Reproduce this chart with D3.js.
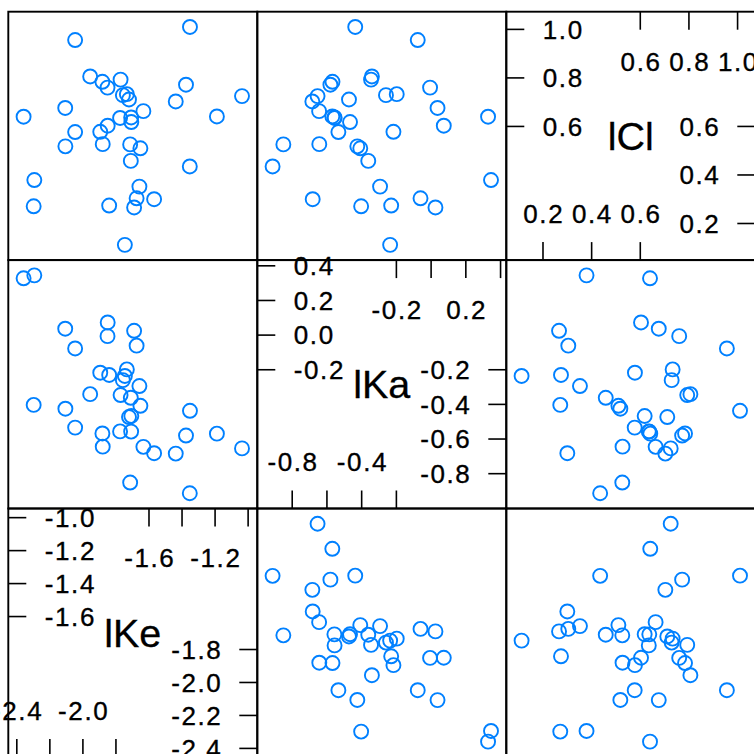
<!DOCTYPE html>
<html>
<head>
<meta charset="utf-8">
<script src="https://cdn.jsdelivr.net/npm/d3@7"></script>
<style>
  html, body { margin: 0; padding: 0; background: #ffffff; }
  svg { display: block; }
</style>
</head>
<body>
<script>
// Scatterplot matrix of per-subject parameter estimates (log scale)
// Column order, left to right; rows run in the reverse order, top to bottom.
const varNames = ["lKe", "lKa", "lCl"];

const lKe = [-1.352, -2.047, -1.956, -1.772, -1.882, -1.376, -1.851, -1.734, -1.758, -1.037,
             -1.721, -1.438, -2.107, -1.634, -2.359, -1.189, -1.775, -1.708, -1.707, -1.850,
             -1.895, -2.047, -1.880, -1.714, -2.106, -1.652, -1.710, -1.353, -2.294, -1.658,
             -1.675, -1.569, -1.841, -2.298, -1.690, -1.746];
const lKa = [-0.437, -0.077, -0.341, -0.346, -0.568, -0.580, -0.006, -0.198, -0.260, -0.654,
             -0.473, -0.684,  0.037, -0.645,  0.328, -0.569, -0.556, -0.557, -0.467,  0.073,
             -0.217, -0.534, -0.644, -0.851, -0.425, -0.408, -0.362, -0.913,  0.345, -0.294,
             -0.061, -0.682, -0.230, -0.403,  0.025, -0.236];
const lCl = [ 1.010,  0.956,  0.806,  0.793,  0.784,  0.772,  0.760,  0.733,  0.729,  0.725,
              0.711,  0.703,  0.676,  0.663,  0.640,  0.641,  0.635,  0.637,  0.618,  0.603,
              0.578,  0.577,  0.527,  0.526,  0.518,  0.510,  0.458,  0.435,  0.379,  0.352,
              0.304,  0.300,  0.274,  0.271,  0.266,  0.112];

// Axis ticks drawn inside the diagonal panels: lower half (bottom / right edges)
// and upper half (top / left edges) of each variable's range.
const lKeTicksLow  = [-2.4, -2.2, -2.0, -1.8];
const lKeTicksHigh = [-1.6, -1.4, -1.2, -1.0];
const lKaTicksLow  = [-0.8, -0.6, -0.4, -0.2];
const lKaTicksHigh = [-0.2, 0.0, 0.2, 0.4];
const lClTicksLow  = [0.2, 0.4, 0.6];
const lClTicksHigh = [0.6, 0.8, 1.0];

// Horizontal labels that fit without overlapping their neighbours.
const lKeLabelsBottom = [-2.4, -2.0];
const lKeLabelsTop    = [-1.6, -1.2];
const lKaLabelsBottom = [-0.8, -0.4];
const lKaLabelsTop    = [-0.2, 0.2];
const lClLabelsBottom = [0.2, 0.4, 0.6];
const lClLabelsTop    = [0.6, 0.8, 1.0];

const values = { lKe, lKa, lCl };
const ticksLow  = { lKe: lKeTicksLow,  lKa: lKaTicksLow,  lCl: lClTicksLow };
const ticksHigh = { lKe: lKeTicksHigh, lKa: lKaTicksHigh, lCl: lClTicksHigh };
const labelsBottom = { lKe: lKeLabelsBottom, lKa: lKaLabelsBottom, lCl: lClLabelsBottom };
const labelsTop    = { lKe: lKeLabelsTop,    lKa: lKaLabelsTop,    lCl: lClLabelsTop };

const W = 754, H = 754;
const x0 = 8.3, y0 = 11.7, cw = 249, ch = 248.4;
const n = varNames.length;
const pointColor = "#0080ff";
const font = "'Liberation Sans', Arial, Helvetica, sans-serif";
const tickFs = 26, nameFs = 39.5, ls = 1.6;
const tickLen = 18, labelInset = 36.5;

// Range of each variable, widened by 7% on both sides.
function paddedExtent(arr) {
  const [lo, hi] = d3.extent(arr);
  const pad = (hi - lo) * 0.07;
  return [lo - pad, hi + pad];
}

const xScale = {}, yScale = {};
varNames.forEach((v, c) => {
  const dom = paddedExtent(values[v]);
  const r = n - 1 - c;
  xScale[v] = d3.scaleLinear().domain(dom).range([x0 + c * cw, x0 + (c + 1) * cw]);
  yScale[v] = d3.scaleLinear().domain(dom).range([y0 + (r + 1) * ch, y0 + r * ch]);
});

const fmt = d3.format(".1f");
const fmtTick = t => fmt(t).replace("\u2212", "-");

const svg = d3.select("body").append("svg")
  .attr("width", W).attr("height", H)
  .attr("viewBox", `0 0 ${W} ${H}`);

svg.append("rect").attr("width", W).attr("height", H).attr("fill", "#ffffff");

const idx = d3.range(lKe.length);

for (let r = 0; r < n; r++) {
  for (let c = 0; c < n; c++) {
    const xv = varNames[c];
    const yv = varNames[n - 1 - r];
    const left = x0 + c * cw, top = y0 + r * ch;
    const right = left + cw, bottom = top + ch;
    const g = svg.append("g");

    if (xv !== yv) {
      const sx = xScale[xv], sy = yScale[yv];
      g.selectAll("circle").data(idx).join("circle")
        .attr("cx", i => sx(values[xv][i]))
        .attr("cy", i => sy(values[yv][i]))
        .attr("r", 7)
        .attr("fill", "none")
        .attr("stroke", pointColor)
        .attr("stroke-width", 1.9);
    } else {
      const sx = xScale[xv], sy = yScale[yv];
      const lineStyle = sel => sel.attr("stroke", "#000").attr("stroke-width", 1.6);
      const textStyle = sel => sel
        .attr("font-family", font).attr("font-size", tickFs)
        .attr("letter-spacing", ls).attr("fill", "#000")
        .attr("stroke", "#000").attr("stroke-width", 0.35);
      const capShift = tickFs * 0.358;

      // upper half: ticks on left and top edges
      ticksHigh[xv].forEach(t => {
        g.append("line").call(lineStyle)
          .attr("x1", left).attr("x2", left + tickLen)
          .attr("y1", sy(t)).attr("y2", sy(t));
        g.append("text").call(textStyle)
          .attr("x", left + labelInset).attr("y", sy(t) + capShift)
          .attr("text-anchor", "start").text(fmtTick(t));
        g.append("line").call(lineStyle)
          .attr("x1", sx(t)).attr("x2", sx(t))
          .attr("y1", top).attr("y2", top + tickLen);
      });
      labelsTop[xv].forEach(t => {
        g.append("text").call(textStyle)
          .attr("x", sx(t) + ls / 2).attr("y", top + 49.5 + capShift)
          .attr("text-anchor", "middle").text(fmtTick(t));
      });

      // lower half: ticks on right and bottom edges
      ticksLow[xv].forEach(t => {
        g.append("line").call(lineStyle)
          .attr("x1", right - tickLen).attr("x2", right)
          .attr("y1", sy(t)).attr("y2", sy(t));
        g.append("text").call(textStyle)
          .attr("x", right - labelInset + ls).attr("y", sy(t) + capShift)
          .attr("text-anchor", "end").text(fmtTick(t));
        g.append("line").call(lineStyle)
          .attr("x1", sx(t)).attr("x2", sx(t))
          .attr("y1", bottom - tickLen).attr("y2", bottom);
      });
      labelsBottom[xv].forEach(t => {
        g.append("text").call(textStyle)
          .attr("x", sx(t) + ls / 2).attr("y", bottom - 46.5 + capShift)
          .attr("text-anchor", "middle").text(fmtTick(t));
      });

      // variable name
      g.append("text")
        .attr("font-family", font).attr("font-size", nameFs).attr("fill", "#000")
        .attr("stroke", "#000").attr("stroke-width", 0.3)
        .attr("x", (left + right) / 2).attr("y", (top + bottom) / 2 + 14)
        .attr("text-anchor", "middle").text(xv);
    }

    // panel border
    g.append("rect")
      .attr("x", left).attr("y", top).attr("width", cw).attr("height", ch)
      .attr("fill", "none").attr("stroke", "#000").attr("stroke-width", 1.9);
  }
}
</script>
</body>
</html>
